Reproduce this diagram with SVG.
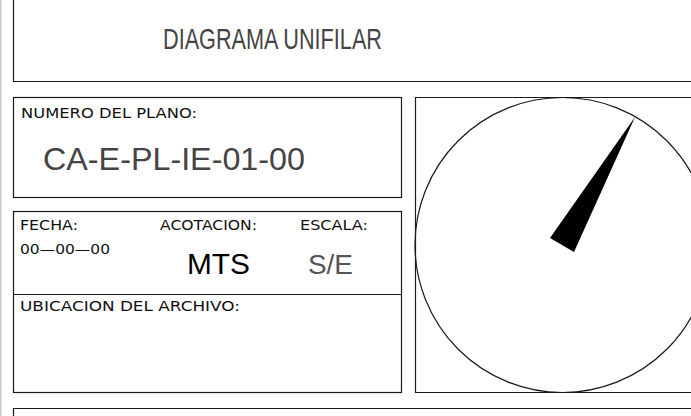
<svg xmlns="http://www.w3.org/2000/svg" width="691" height="416" viewBox="0 0 691 416">
<style>
.ln{fill:none;stroke:#1a1a1a;stroke-width:1.2}
.sm{font-family:"DejaVu Sans",Verdana,sans-serif;font-size:14.5px;fill:#111}
.big{font-family:"Liberation Sans",Arial,sans-serif;fill:#444}
</style>
<rect x="0" y="0" width="691" height="416" fill="#fff"/>
<rect x="0" y="0" width="1.6" height="416" fill="#cfcfcf"/>
<g id="title">
<path class="ln" d="M13.5,-2 V81.5 H695"/>
<text class="big" x="163" y="49" font-size="29" textLength="219" lengthAdjust="spacingAndGlyphs">DIAGRAMA UNIFILAR</text>
</g>
<g id="plano">
<rect class="ln" x="13.5" y="97.5" width="388" height="100"/>
<text class="sm" x="21" y="118" textLength="176" lengthAdjust="spacingAndGlyphs">NUMERO  DEL  PLANO:</text>
<text class="big" x="43" y="170" font-size="31" textLength="262" lengthAdjust="spacingAndGlyphs">CA-E-PL-IE-01-00</text>
</g>
<g id="datos">
<rect class="ln" x="13.5" y="211.5" width="388" height="181"/>
<line class="ln" x1="13.5" y1="294.5" x2="401.5" y2="294.5"/>
<text class="sm" x="20" y="230" textLength="58" lengthAdjust="spacingAndGlyphs">FECHA:</text>
<text class="sm" x="160" y="230" textLength="97" lengthAdjust="spacingAndGlyphs">ACOTACION:</text>
<text class="sm" x="300" y="230" textLength="68" lengthAdjust="spacingAndGlyphs">ESCALA:</text>
<text class="sm" x="20" y="254" textLength="90" lengthAdjust="spacingAndGlyphs">00—00—00</text>
<text class="big" x="187" y="274" font-size="29" style="fill:#000" textLength="63" lengthAdjust="spacingAndGlyphs">MTS</text>
<text class="big" x="308" y="274" font-size="28" style="fill:#555" textLength="45" lengthAdjust="spacingAndGlyphs">S/E</text>
<text class="sm" x="20" y="311" textLength="220" lengthAdjust="spacingAndGlyphs">UBICACION  DEL  ARCHIVO:</text>
</g>
<g id="norte">
<path class="ln" d="M695,97.5 H415.5 V392.5 H695"/>
<circle class="ln" cx="562.5" cy="245" r="147.5"/>
<polygon points="635,117 550,238 574,252" fill="#000"/>
</g>
<g id="pie">
<path class="ln" d="M13.5,420 V408.5 H695"/>
</g>
</svg>
